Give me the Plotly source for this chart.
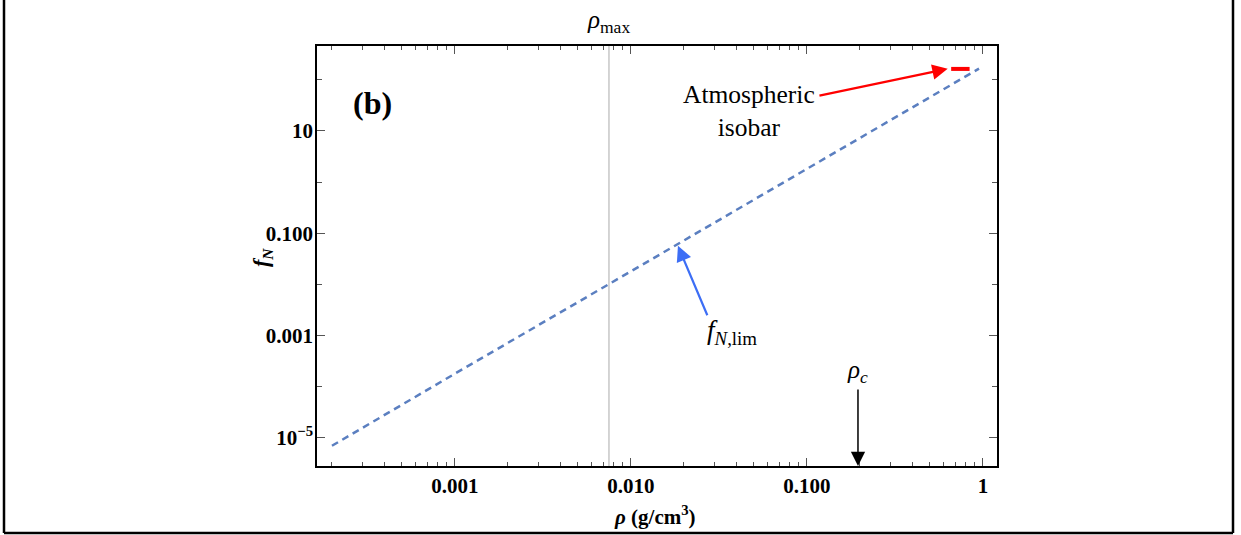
import plotly.graph_objects as go
import numpy as np

# ---- data ----
rho_lim = [2.0e-4, 1.0e-3, 1.0e-2, 1.0e-1, 0.95]          # g/cm^3
fN_lim = [7.0e-6, 1.8e-4, 1.8e-2, 1.8, 165.0]

rho_isobar = [0.66, 0.84]
fN_isobar = [163.0, 163.0]

rho_max = 0.0075
rho_c = 0.195

x_tickvals = [0.001, 0.01, 0.1, 1]
x_ticktext = ["0.001", "0.010", "0.100", "1"]
y_tickvals = [1e-5, 1e-3, 1e-1, 10]
y_ticktext = ["10<sup>\u22125</sup>", "0.001", "0.100", "10"]
y_minor = [1e-4, 1e-2, 1, 100]
x_minor = [m * 10.0 ** e for e in range(-4, 1) for m in range(2, 10)]

FONT = "Liberation Serif"
LC = "#5b7fc0"

fig = go.Figure()
fig.add_trace(go.Scatter(x=rho_lim, y=fN_lim, mode="lines",
                         line=dict(color=LC, width=2.5, dash="7px,5px"),
                         showlegend=False, hoverinfo="skip"))
fig.add_trace(go.Scatter(x=rho_isobar, y=fN_isobar, mode="lines",
                         line=dict(color="#ff0000", width=4),
                         showlegend=False, hoverinfo="skip"))

lx = np.log10
fig.add_shape(type="line", xref="x", yref="paper", x0=rho_max, x1=rho_max,
              y0=0, y1=1, line=dict(color="#aaaaaa", width=1))

W, H = 1241, 535
L, R, T, B = 317, 244, 46, 69
pw, ph = W - L - R, H - T - B
def px(x):
    return (x - L) / pw
def py(y):
    return (H - B - y) / ph
for (x0, y0, x1, y1) in [(4, 0, 4, 533), (1233, 0, 1233, 533), (4, 533, 1233, 533)]:
    fig.add_shape(type="line", xref="paper", yref="paper",
                  x0=px(x0), y0=py(y0), x1=px(x1), y1=py(y1),
                  line=dict(color="black", width=2.5))

C = dict(xanchor="center", yanchor="middle", showarrow=False)
annots = []
annots.append(dict(text="<b>(b)</b>", x=px(372), y=py(103), xref="paper", yref="paper",
                   font=dict(family=FONT, size=32, color="black"), **C))
annots.append(dict(text="<i>\u03c1</i><sub>max</sub>", x=lx(rho_max), y=py(22), xref="x", yref="paper",
                   font=dict(family=FONT, size=25, color="black"), **C))
annots.append(dict(text="Atmospheric<br>isobar", x=px(749), y=py(111), xref="paper", yref="paper",
                   font=dict(family=FONT, size=25.5, color="black"), **C))
annots.append(dict(text="", x=-0.20, y=2.215, xref="x", yref="y",
                   ax=-0.9375, ay=1.684, axref="x", ayref="y",
                   showarrow=True, arrowhead=2, arrowsize=1.4, arrowwidth=2.2,
                   arrowcolor="#ff0000"))
annots.append(dict(text="<i>f</i><sub><i>N</i>,lim</sub>", x=px(732), y=py(332), xref="paper", yref="paper",
                   font=dict(family=FONT, size=27, color="black"), **C))
annots.append(dict(text="", x=-1.733, y=-1.246, xref="x", yref="y",
                   ax=-1.5625, ay=-2.633, axref="x", ayref="y",
                   showarrow=True, arrowhead=2, arrowsize=1.4, arrowwidth=2.2,
                   arrowcolor="#3d6ef5"))
annots.append(dict(text="<i>\u03c1</i><sub><i>c</i></sub>", x=lx(rho_c), y=py(371), xref="x", yref="paper",
                   font=dict(family=FONT, size=25, color="black"), **C))
annots.append(dict(text="", x=lx(rho_c), y=0, xref="x", yref="paper",
                   ax=0, ay=-78, axref="pixel", ayref="pixel",
                   showarrow=True, arrowhead=2, arrowsize=1.9, arrowwidth=1.5,
                   arrowcolor="black"))
annots.append(dict(text="<b><i>\u03c1</i> (g/cm<sup>3</sup>)</b>", x=px(655), y=py(515), xref="paper", yref="paper",
                   font=dict(family=FONT, size=21, color="black"), **C))
annots.append(dict(text="<b><i>f</i><sub><i>N</i></sub></b>", x=px(262), y=py(258), xref="paper", yref="paper",
                   textangle=-90, font=dict(family=FONT, size=22, color="black"), **C))

axis_common = dict(type="log", showgrid=False, zeroline=False, showline=True,
                   linecolor="black", linewidth=1.5, mirror="ticks",
                   ticks="inside", tickcolor="#555555", tickwidth=1,
                   tickfont=dict(family=FONT, size=21, color="black", weight="bold"))

fig.update_layout(
    width=W, height=H,
    margin=dict(l=L, r=R, t=T, b=B),
    paper_bgcolor="white", plot_bgcolor="white",
    font=dict(family=FONT, color="black"),
    showlegend=False,
    annotations=annots,
    xaxis=dict(**axis_common, range=[-3.784, 0.08], tickmode="array",
               tickvals=x_tickvals, ticktext=x_ticktext, ticklen=8,
               minor=dict(tickmode="array", tickvals=x_minor, ticks="inside", ticklen=4,
                          tickcolor="#555555", showgrid=False)),
    yaxis=dict(**axis_common, range=[-5.55, 2.66], tickmode="array",
               tickvals=y_tickvals, ticktext=y_ticktext, ticklen=8,
               ticklabelstandoff=-2,
               minor=dict(tickmode="array", tickvals=y_minor, ticks="inside", ticklen=5,
                          tickcolor="#555555", showgrid=False)),
)

fig.write_html("out.html")
